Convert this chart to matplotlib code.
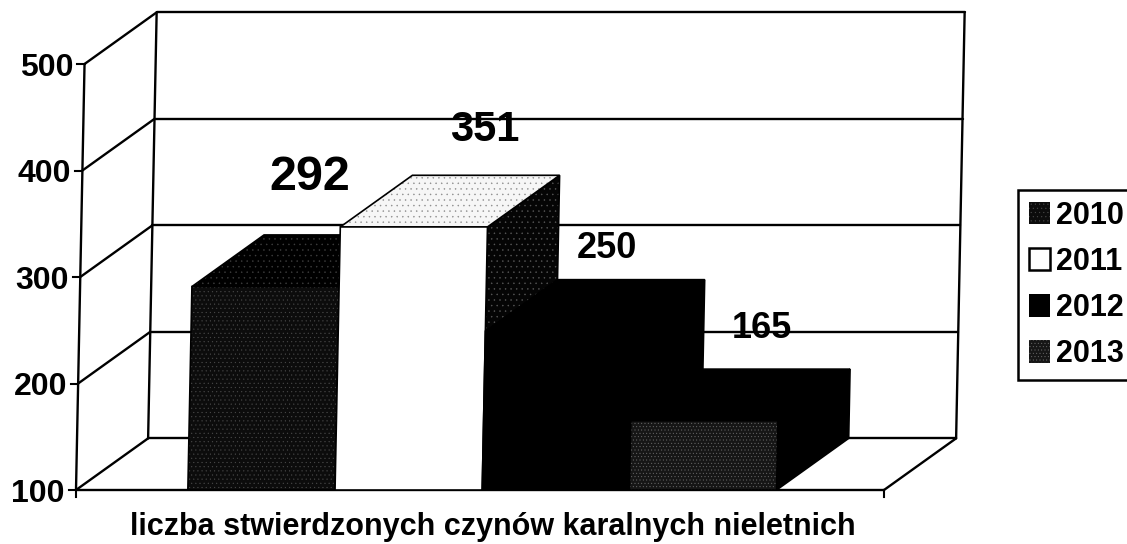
import matplotlib
matplotlib.use('Agg')
from matplotlib import pyplot as plt
from matplotlib.patches import Patch, Polygon

plt.rcParams['font.family'] = ['Liberation Sans', 'DejaVu Sans']
plt.rcParams['font.weight'] = 'bold'
plt.rcParams['hatch.linewidth'] = 0.3

years = ['2010', '2011', '2012', '2013']
bar_heights = [291, 347, 249, 165]
bar_labels = ['292', '351', '250', '165']
y_ticks = [100, 200, 300, 400, 500]
x_label = 'liczba stwierdzonych czynów karalnych nieletnich'

front_colors = ['#0c0c0c', '#ffffff', '#000000', '#161616']
front_hatches = ['....', None, None, '.....']
front_specks = ['#4a4a4a', 'black', 'black', '#6e6e6e']
top_colors = ['#000000', '#f6f6f6', '#000000', '#000000']
top_hatches = ['...', '...', None, None]
top_specks = ['#404040', '#8a8a8a', 'black', 'black']
side_colors = ['#000000', '#050505', '#000000', '#000000']
side_hatches = [None, '...', None, None]
side_specks = ['black', '#5a5a5a', 'black', 'black']
label_sizes = [35, 30, 26, 26]
label_pos = [(0.83, 393), (2.02, 438), (2.85, 327), (3.90, 252)]

fig = plt.figure(figsize=(11.27, 5.44), dpi=100)
ax = fig.add_axes([76 / 1127, 54 / 544, 808 / 1127, 426 / 544])
ax.set_xlim(-0.76, 4.73)
ax.set_ylim(100, 500)
ax.axis('off')

# the picture is an oblique 3d view, a bit skewed by the scanner
depth_x = 0.49
depth_y = 48.5
skew = 0.000145


def project(x, value, depth=0):
    return (x + depth * depth_x + (value - 100) * skew, value + depth * depth_y)


def face(points, color, hatch, speck, zorder=3):
    poly = Polygon(points, closed=True, facecolor=color, edgecolor=speck,
                   hatch=hatch, linewidth=0, clip_on=False, zorder=zorder)
    ax.add_patch(poly)
    edge = Polygon(points, closed=True, fill=False, edgecolor='black', linewidth=1.2,
                   clip_on=False, zorder=zorder)
    ax.add_patch(edge)


def line(a, b, lw=1.7):
    ax.plot([a[0], b[0]], [a[1], b[1]], color='black', linewidth=lw, clip_on=False,
            zorder=2, solid_capstyle='round')


x_min, x_max = ax.get_xlim()

# walls and floor
for tick in y_ticks:
    line(project(x_min, tick), project(x_min, tick, 1))
    if tick > 100:
        line(project(x_min, tick, 1), project(x_max, tick, 1))
    left = project(x_min, tick)
    ax.plot([left[0] - 0.05, left[0]], [tick, tick], color='black', linewidth=1.5,
            clip_on=False, zorder=2)
    ax.text(left[0] - 0.075, tick - 3.5, str(tick), ha='right', va='center', fontsize=23)

line(project(x_min, 100, 1), project(x_max, 100, 1))
line(project(x_min, 100), project(x_min, 500))
line(project(x_min, 100, 1), project(x_min, 500, 1))
line(project(x_max, 100, 1), project(x_max, 500, 1))
line(project(x_min, 100), project(x_max, 100))
line(project(x_max, 100), project(x_max, 100, 1))
for x in [x_min, x_max]:
    ax.plot([x, x], [100, 93], color='black', linewidth=1.5, clip_on=False, zorder=2)

# bars, left to right so each one covers the side of the previous
for i, value in enumerate(bar_heights):
    x0 = i
    x1 = i + 1
    face([project(x1, 100), project(x1, value), project(x1, value, 1), project(x1, 100, 1)],
         side_colors[i], side_hatches[i], side_specks[i])
    face([project(x0, value), project(x1, value), project(x1, value, 1), project(x0, value, 1)],
         top_colors[i], top_hatches[i], top_specks[i])
    face([project(x0, 100), project(x1, 100), project(x1, value), project(x0, value)],
         front_colors[i], front_hatches[i], front_specks[i])

for text, size, pos in zip(bar_labels, label_sizes, label_pos):
    ax.text(pos[0], pos[1], text, ha='center', va='center', fontsize=size, zorder=5)

fig.text(493 / 1127, 1 - 527 / 544, x_label, ha='center', va='center', fontsize=22)

handles = []
for i, year in enumerate(years):
    handles.append(Patch(facecolor=front_colors[i], edgecolor=front_specks[i],
                         linewidth=0, hatch=front_hatches[i], label=year))
handles[1] = Patch(facecolor='white', edgecolor='black', linewidth=1.8, label=years[1])

leg = fig.legend(handles=handles, loc='upper left', bbox_to_anchor=(1018 / 1127, 1 - 190 / 544),
                 fontsize=22, frameon=True, fancybox=False, edgecolor='black', framealpha=1,
                 borderaxespad=0, handlelength=0.7, handleheight=0.75, handletextpad=0.2,
                 labelspacing=0.53, borderpad=0.35)
leg.get_frame().set_linewidth(1.8)

plt.savefig('out.png', dpi=100)
